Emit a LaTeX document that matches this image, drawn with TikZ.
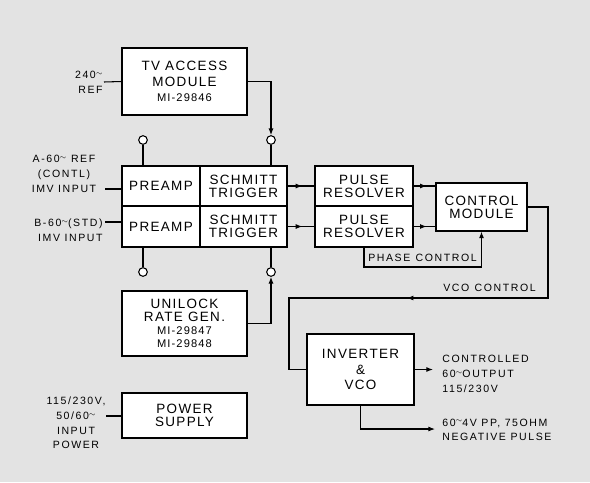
\documentclass[tikz,border=0pt]{standalone}
\usepackage{fontspec}
\setmainfont{Liberation Sans}
\newfontfamily\boxfont{Liberation Sans}[LetterSpace=10]
\newfontfamily\labfont{Liberation Sans}[LetterSpace=15]
\usetikzlibrary{arrows.meta,decorations.markings}
\newcommand\cyc{\raisebox{0.6ex}{$\scriptstyle\sim$}}

\begin{document}
\begin{tikzpicture}[x=0.3mm,y=-0.3mm,>={Latex[length=2mm,width=1.5mm]},
  blk/.style={draw,fill=white,line width=0.9pt,inner sep=0pt,align=center,font=\boxfont\fontsize{11.5}{14}\selectfont},
  sz/.style 2 args={minimum width=#1*0.3mm,minimum height=#2*0.3mm},
  e/.style={draw,line width=0.9pt},
  jack/.style={circle,draw,fill=white,line width=0.9pt,minimum size=2.6mm,inner sep=0pt},
  lab/.style={font=\labfont\fontsize{9}{12.5}\selectfont,inner sep=1pt},
  midarr/.style={decoration={markings,mark=at position #1 with {\arrow{>}}},postaction={decorate}}]
  \fill[black!11] (0,0) rectangle (590,482);
  \useasboundingbox (0,0) rectangle (590,482);
  % boxes
  \node[blk,sz={125}{67}] (tv) at (184.5,81.5) {TV ACCESS\\MODULE\\[-1pt]{\fontsize{9.5}{12}\selectfont MI-29846}};
  \node[blk,sz={78}{40}] (pa1) at (161,186) {PREAMP};
  \node[blk,sz={87}{40}] (st1) at (243.5,186) {SCHMITT\\[-3pt]TRIGGER};
  \node[blk,sz={78}{41}] (pa2) at (161,226.5) {PREAMP};
  \node[blk,sz={87}{41}] (st2) at (243.5,226.5) {SCHMITT\\[-3pt]TRIGGER};
  \node[blk,sz={98}{40}] (pr1) at (364,186) {PULSE\\[-3pt]RESOLVER};
  \node[blk,sz={98}{41}] (pr2) at (364,226.5) {PULSE\\[-3pt]RESOLVER};
  \node[blk,sz={91}{48}] (cm) at (481.5,207) {CONTROL\\[-3pt]MODULE};
  \node[blk,sz={125}{65}] (ul) at (184.5,323.5) {UNILOCK\\[-3pt]RATE GEN.\\[-3pt]{\fontsize{9.5}{12}\selectfont MI-29847}\\[-3pt]{\fontsize{9.5}{12}\selectfont MI-29848}};
  \node[blk,sz={125}{45}] (ps) at (184.5,415.5) {POWER\\[-3pt]SUPPLY};
  \node[blk,sz={107}{71}] (inv) at (360.5,369.5) {INVERTER\\[-1pt]\&\\[-1pt]VCO};
  % jacks
  \node[jack] (c1) at (143,140) {};
  \node[jack] (c2) at (271,140) {};
  \node[jack] (c3) at (143,272) {};
  \node[jack] (c4) at (271,272) {};
  % labels
  \node[lab,anchor=east,align=right] (l240) at (104,82) {240\cyc\\REF};
  \node[lab,align=center] (lA) at (64,174) {A-60\cyc{} REF\\(CONTL)\\IMV INPUT};
  \node[lab,anchor=east,align=right] (lB) at (104,230.5) {B-60\cyc(STD)\\IMV INPUT};
  \node[lab,align=center] (lP) at (76,423) {115/230V,\\50/60\cyc\\INPUT\\POWER};
  \node[lab] (lph) at (422.5,258) {PHASE\enspace CONTROL};
  \node[lab] (lvco) at (489.5,288) {VCO\enspace CONTROL};
  \node[lab,anchor=west,align=left] (lout) at (441,374) {CONTROLLED\\60\cyc OUTPUT\\115/230V};
  \node[lab,anchor=west,align=left] (lneg) at (441,430) {60\cyc4V PP, 75OHM\\NEGATIVE PULSE};
  % free ends
  \coordinate (ina) at (105,189);
  \coordinate (inb) at (105,222);
  \coordinate (inp) at (106,416);
  \coordinate (ph) at (481.5,267);
  \coordinate (v1) at (548,298);
  \coordinate (v2) at (289,298);
  \coordinate (o1) at (433,369.5);
  \coordinate (o2) at (435,429);
  % connectors
  \draw[e] (l240.east) -- (tv.west);
  \draw[e] (ina) -- (ina -| pa1.west);
  \draw[e] (inb) -- (inb -| pa2.west);
  \draw[e] (inp) -- (inp -| ps.west);
  \draw[e,->] (tv.east) -| (c2);
  \draw[e,->] (ul.east) -| (c4);
  \draw[e] (c1) -- (c1 |- pa1.north);
  \draw[e] (c2) -- (c2 |- st1.north);
  \draw[e] (c3) -- (c3 |- pa2.south);
  \draw[e] (c4) -- (c4 |- st2.south);
  \draw[e,midarr=0.55] (st1.east) -- (pr1.west);
  \draw[e,midarr=0.55] (st2.east) -- (pr2.west);
  \draw[e,midarr=0.6] (pr1.east) -- (pr1.east -| cm.west);
  \draw[e,midarr=0.6] (pr2.east) -- (pr2.east -| cm.west);
  \draw[e,->] (pr2.south) |- (ph) -- (cm.south);
  \draw[e,midarr=0.55] (cm.east) -| (v1) -- (v2) |- (inv.west);
  \draw[e,->] (inv.east) -- (o1);
  \draw[e,->] (inv.south) |- (o2);
\end{tikzpicture}
\end{document}
